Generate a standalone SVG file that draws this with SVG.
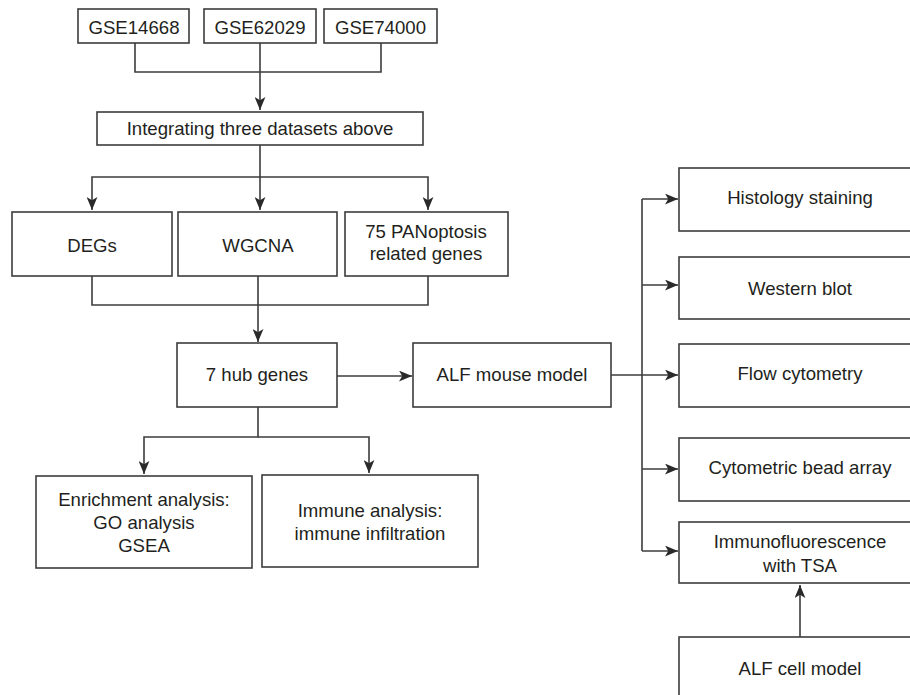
<svg xmlns="http://www.w3.org/2000/svg" width="910" height="695" viewBox="0 0 910 695">
<style>
.box{fill:#fff;stroke:#3c3c3c;stroke-width:1.6}
.t{font-family:"Liberation Sans",Arial,sans-serif;font-size:18.6px;fill:#231f20;text-anchor:middle}
.c{fill:none;stroke:#3c3c3c;stroke-width:1.6}
</style>
<defs>
<marker id="ah" viewBox="0 0 12 10" refX="12" refY="5" markerWidth="13" markerHeight="11" markerUnits="userSpaceOnUse" orient="auto">
<path d="M0,0 L12,5 L0,10 L3,5 Z" fill="#2a2a2a"/>
</marker>
</defs>
<rect width="910" height="695" fill="#fff"/>
<g id="connectors">
<path class="c" d="M135,43 V72 H381 V43"/>
<path class="c" d="M260,43 V110" marker-end="url(#ah)"/>
<path class="c" d="M260,145 V177 H92 V210" marker-end="url(#ah)"/>
<path class="c" d="M260,177 V210" marker-end="url(#ah)"/>
<path class="c" d="M260,177 H428 V210" marker-end="url(#ah)"/>
<path class="c" d="M92,276 V305 H428 V276"/>
<path class="c" d="M258,276 V342" marker-end="url(#ah)"/>
<path class="c" d="M337,376 H412" marker-end="url(#ah)"/>
<path class="c" d="M258,407 V437 H144 V474" marker-end="url(#ah)"/>
<path class="c" d="M258,437 H369 V473" marker-end="url(#ah)"/>
<path class="c" d="M611,375 H678" marker-end="url(#ah)"/>
<path class="c" d="M642,199 V551"/>
<path class="c" d="M642,199 H678" marker-end="url(#ah)"/>
<path class="c" d="M642,285 H678" marker-end="url(#ah)"/>
<path class="c" d="M642,469 H678" marker-end="url(#ah)"/>
<path class="c" d="M642,551 H678" marker-end="url(#ah)"/>
<path class="c" d="M800,637 V585" marker-end="url(#ah)"/>
</g>
<g id="gse14668"><rect class="box" x="78" y="9" width="111" height="34"/><text class="t" x="134" y="33.5">GSE14668</text></g>
<g id="gse62029"><rect class="box" x="204" y="9" width="112" height="34"/><text class="t" x="260" y="33.5">GSE62029</text></g>
<g id="gse74000"><rect class="box" x="324" y="9" width="113" height="34"/><text class="t" x="380.5" y="33.5">GSE74000</text></g>
<g id="integrating"><rect class="box" x="97" y="112" width="326" height="33"/><text class="t" x="260" y="135">Integrating three datasets above</text></g>
<g id="degs"><rect class="box" x="12" y="212" width="160" height="64"/><text class="t" x="92" y="252">DEGs</text></g>
<g id="wgcna"><rect class="box" x="178" y="212" width="159" height="64"/><text class="t" x="258" y="252">WGCNA</text></g>
<g id="panoptosis"><rect class="box" x="345" y="212" width="163" height="64"/><text class="t" x="426" y="238">75 PANoptosis</text><text class="t" x="426" y="260">related genes</text></g>
<g id="hub"><rect class="box" x="177" y="343" width="160" height="64"/><text class="t" x="257" y="381">7 hub genes</text></g>
<g id="alfmouse"><rect class="box" x="413" y="343" width="198" height="64"/><text class="t" x="512" y="381">ALF mouse model</text></g>
<g id="enrichment"><rect class="box" x="36" y="476" width="216" height="92"/><text class="t" x="144" y="506">Enrichment analysis:</text><text class="t" x="144" y="529">GO analysis</text><text class="t" x="144" y="552">GSEA</text></g>
<g id="immune"><rect class="box" x="262" y="475" width="216" height="92"/><text class="t" x="370" y="517">Immune analysis:</text><text class="t" x="370" y="540">immune infiltration</text></g>
<g id="histology"><rect class="box" x="679" y="168" width="243" height="63"/><text class="t" x="800" y="204">Histology staining</text></g>
<g id="western"><rect class="box" x="679" y="257" width="243" height="62"/><text class="t" x="800" y="295">Western blot</text></g>
<g id="flow"><rect class="box" x="679" y="344" width="243" height="63"/><text class="t" x="800" y="380">Flow cytometry</text></g>
<g id="cba"><rect class="box" x="679" y="438" width="243" height="63"/><text class="t" x="800" y="474">Cytometric bead array</text></g>
<g id="if"><rect class="box" x="679" y="522" width="243" height="61"/><text class="t" x="800" y="548">Immunofluorescence</text><text class="t" x="800" y="572">with TSA</text></g>
<g id="alfcell"><rect class="box" x="679" y="637" width="243" height="70"/><text class="t" x="800" y="675">ALF cell model</text></g>
</svg>
